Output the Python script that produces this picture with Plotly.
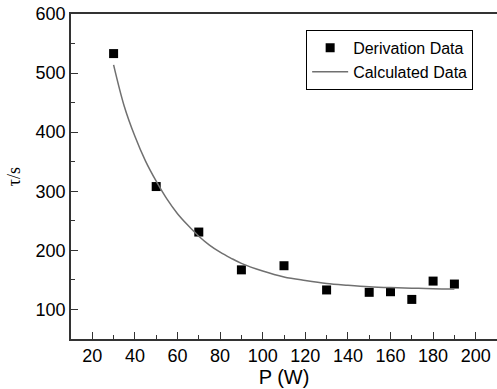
import plotly.graph_objects as go

# Measured data (Derivation Data)
power_w = [30, 50, 70, 90, 110, 130, 150, 160, 170, 180, 190]
tau_s = [533, 308, 231, 167, 174, 133, 129, 130, 117, 148, 143]

# Fitted curve (Calculated Data)
calc_p = [30, 35, 40, 45, 50, 55, 60, 65, 70, 75, 80, 85, 90, 100, 110, 120, 130, 140, 150, 160, 170, 180, 190]
calc_tau = [514, 444, 393, 351, 317, 287, 262, 242, 224, 209, 197, 187, 178, 165, 155, 149, 144, 141, 138.5, 137, 136, 135, 134.5]

x_ticks = [20, 40, 60, 80, 100, 120, 140, 160, 180, 200]
y_ticks = [100, 200, 300, 400, 500, 600]

fig = go.Figure()
fig.add_trace(go.Scatter(
    x=power_w, y=tau_s, mode="markers", name="Derivation Data",
    marker=dict(symbol="square", size=9, color="black"),
))
fig.add_trace(go.Scatter(
    x=calc_p, y=calc_tau, mode="lines", name="Calculated Data",
    line=dict(color="#707070", width=1.5, shape="spline"),
))

axis_font = dict(family="Liberation Sans, Arial, sans-serif", size=18, color="black")

fig.update_layout(
    width=497, height=389,
    margin=dict(l=71, r=0, t=14, b=50),
    paper_bgcolor="white", plot_bgcolor="white",
    font=dict(family="Liberation Sans, Arial, sans-serif", color="black"),
    legend=dict(
        x=0.552, y=0.951, xanchor="left", yanchor="top",
        bordercolor="black", borderwidth=1, bgcolor="white",
        font=dict(family="Liberation Sans, Arial, sans-serif", size=16, color="black"),
        tracegroupgap=0, itemwidth=36,
    ),
    xaxis=dict(
        range=[10, 210], tickvals=x_ticks, ticktext=[str(v) for v in x_ticks],
        showline=True, linecolor="#333", linewidth=1.5, mirror=True,
        ticks="inside", ticklen=7, tickwidth=1.2, tickcolor="#333",
        minor=dict(ticks="inside", ticklen=4, dtick=10, tick0=0, tickcolor="#333", tickwidth=1.2),
        showgrid=False, zeroline=False, tickfont=axis_font,
        title=dict(text="P (W)", font=dict(family="Liberation Sans, Arial, sans-serif", size=20, color="black"), standoff=2),
    ),
    yaxis=dict(
        range=[50, 600], tickvals=y_ticks, ticktext=[str(v) for v in y_ticks],
        showline=True, linecolor="#333", linewidth=1.5, mirror=False,
        ticks="inside", ticklen=7, tickwidth=1.2, tickcolor="#333",
        minor=dict(ticks="inside", ticklen=4, dtick=50, tick0=0, tickcolor="#333", tickwidth=1.2),
        showgrid=False, zeroline=False, tickfont=axis_font,
        title=dict(text="τ/s", font=dict(family="Liberation Serif, Times New Roman, serif", size=18, color="black"), standoff=10),
    ),
    showlegend=True,
)

fig.write_html("out.html")
